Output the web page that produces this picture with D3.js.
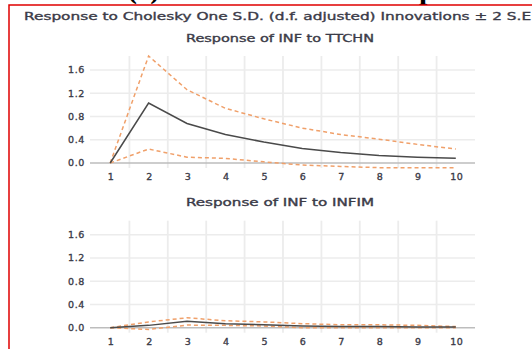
<!DOCTYPE html>
<html>
<head>
<meta charset="utf-8">
<script src="https://cdn.jsdelivr.net/npm/d3@7"></script>
<style>
  body { margin: 0; background: #fff; }
  svg { display: block; }
  .lbl { font-family: "DejaVu Sans", Verdana, sans-serif; fill: #3b3b48; stroke: #3b3b48; stroke-width: 0.35px; }
</style>
</head>
<body>
<svg id="chart" width="532" height="349"></svg>
<script>
// impulse response periods
const periods = [1, 2, 3, 4, 5, 6, 7, 8, 9, 10];
const yTicks = [0, 0.4, 0.8, 1.2, 1.6];

// INF to TTCHN
const ttchnResp  = [0, 1.03, 0.68, 0.49, 0.36, 0.25, 0.18, 0.13, 0.10, 0.08];
const ttchnUpper = [0, 1.84, 1.26, 0.94, 0.76, 0.60, 0.49, 0.41, 0.32, 0.24];
const ttchnLower = [0, 0.24, 0.10, 0.08, 0.02, -0.035, -0.06, -0.08, -0.08, -0.08];

// INF to INFIM
const infimResp  = [0, 0.04, 0.11, 0.07, 0.05, 0.03, 0.02, 0.02, 0.01, 0.01];
const infimUpper = [0, 0.10, 0.17, 0.12, 0.10, 0.07, 0.05, 0.05, 0.04, 0.02];
const infimLower = [0, -0.03, 0.045, 0.04, 0.03, 0.0, 0.0, 0.0, 0.0, 0.0];

const svg = d3.select("#chart");

// clipped header remnants above the frame
svg.append("text")
    .attr("x", 127).attr("y", -2)
    .style("font-family", "Liberation Serif, serif")
    .style("font-weight", "bold")
    .style("font-size", "30px")
    .text("(c)");
svg.append("text")
    .attr("x", 419).attr("y", -1)
    .style("font-family", "Liberation Serif, serif")
    .style("font-weight", "bold")
    .style("font-size", "30px")
    .text("p");

// red frame
svg.append("path")
    .attr("d", "M9,349 V5 H532")
    .attr("fill", "none")
    .attr("stroke", "#e00000")
    .attr("stroke-width", 1.5);

// main title
svg.append("text")
    .attr("class", "lbl")
    .attr("x", 24).attr("y", 19.5)
    .attr("textLength", 512)
    .attr("lengthAdjust", "spacingAndGlyphs")
    .style("font-size", "10.5px")
    .text("Response to Cholesky One S.D. (d.f. adjusted) Innovations \u00b1 2 S.E.");

const x = d3.scaleBand().domain(periods).range([91, 475]).padding(0);

function drawPanel(top, title, resp, upper, lower) {
    const y = d3.scaleLinear().domain([-0.086, 1.84]).range([top + 112, top]);
    const g = svg.append("g");

    g.append("text")
        .attr("class", "lbl")
        .attr("x", 280).attr("y", top - 14.5)
        .attr("text-anchor", "middle")
        .attr("textLength", 188)
        .attr("lengthAdjust", "spacingAndGlyphs")
        .style("font-size", "10px")
        .text(title);

    // horizontal grid
    g.selectAll(".hgrid")
        .data(yTicks.slice(1))
        .enter().append("line")
        .attr("x1", 90).attr("x2", 475)
        .attr("y1", d => y(d)).attr("y2", d => y(d))
        .attr("stroke", "#ececec")
        .attr("stroke-width", 1.5);

    // vertical grid between periods
    g.selectAll(".vgrid")
        .data(periods.slice(1))
        .enter().append("line")
        .attr("x1", d => x(d)).attr("x2", d => x(d))
        .attr("y1", y.range()[1]).attr("y2", y.range()[0])
        .attr("stroke", "#ececec")
        .attr("stroke-width", 1.8);

    // zero line
    g.append("line")
        .attr("x1", 90).attr("x2", 475)
        .attr("y1", y(0)).attr("y2", y(0))
        .attr("stroke", "#bdbdbd")
        .attr("stroke-width", 1.5);

    // y labels
    g.selectAll(".ylab")
        .data(yTicks)
        .enter().append("text")
        .attr("class", "lbl")
        .attr("x", 85)
        .attr("y", d => y(d) + 3.5)
        .attr("text-anchor", "end")
        .style("font-size", "9.5px")
        .style("letter-spacing", "0.6px")
        .text(d => d3.format(".1f")(d));

    // x labels
    g.selectAll(".xlab")
        .data(periods)
        .enter().append("text")
        .attr("class", "lbl")
        .attr("x", d => x(d) + x.bandwidth() / 2 + 1)
        .attr("y", y(0) + 17)
        .attr("text-anchor", "middle")
        .style("font-size", "9.5px")
        .style("letter-spacing", "0.6px")
        .text(d => d);

    const line = d3.line()
        .x((d, i) => x(periods[i]) + x.bandwidth() / 2)
        .y(d => y(d));

    [upper, lower].forEach(s => {
        g.append("path")
            .datum(s)
            .attr("fill", "none")
            .attr("stroke", "#f0a06a")
            .attr("stroke-width", 1.5)
            .attr("stroke-dasharray", "4,3")
            .attr("d", line);
    });

    g.append("path")
        .datum(resp)
        .attr("fill", "none")
        .attr("stroke", "#4a4a4a")
        .attr("stroke-width", 1.5)
        .attr("d", line);
}

drawPanel(56, "Response of INF to TTCHN", ttchnResp, ttchnUpper, ttchnLower);
drawPanel(220.7, "Response of INF to INFIM", infimResp, infimUpper, infimLower);
</script>
</body>
</html>
